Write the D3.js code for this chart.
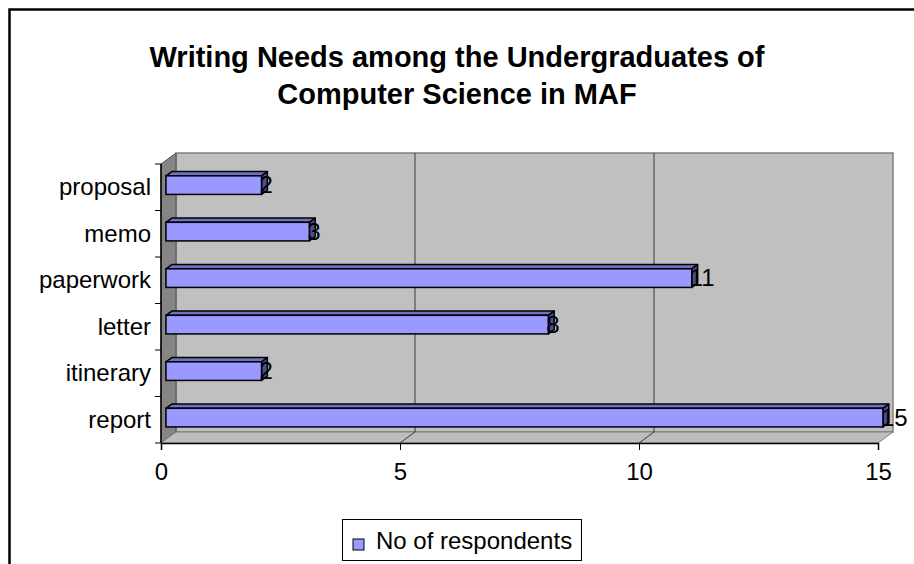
<!DOCTYPE html>
<html>
<head>
<meta charset="utf-8">
<script src="https://cdn.jsdelivr.net/npm/d3@7"></script>
<style>
  html, body { margin: 0; padding: 0; background: #fff; }
  svg { display: block; }
  text { font-family: "Liberation Sans", Arial, sans-serif; }
</style>
</head>
<body>
<svg id="chart" width="914" height="564"></svg>
<script>
// Writing needs data (top to bottom as shown)
const categories = ["proposal", "memo", "paperwork", "letter", "itinerary", "report"];
const respondents = [2, 3, 11, 8, 2, 15];
const xTicks = [0, 5, 10, 15];
const titleLines = ["Writing Needs among the Undergraduates of", "Computer Science in MAF"];
const seriesName = "No of respondents";

const svg = d3.select("#chart");

// Outer chart frame (extends past the page edges)
svg.append("rect")
  .attr("x", 9.5).attr("y", 9.5)
  .attr("width", 1000).attr("height", 1000)
  .attr("fill", "#fff").attr("stroke", "#000").attr("stroke-width", 2.5);

// Title
svg.append("g").selectAll("text")
  .data(titleLines).join("text")
  .attr("x", 457)
  .attr("y", (d, i) => 67 + i * 37)
  .attr("text-anchor", "middle")
  .attr("font-size", 29).attr("font-weight", "bold")
  .text(d => d);

// Front plane scales, plus the depth offset of the 3D box
const x = d3.scaleLinear().domain([0, 15]).range([161, 878]);
const y = d3.scaleBand().domain(categories).range([164, 443]);
const depth = { dx: 15, dy: -11 };
const yTop = y.range()[0], yBot = y.range()[1];
const x0 = x(0), x1 = x(15);

const box = svg.append("g");
// Back wall
box.append("rect")
  .attr("x", x0 + depth.dx).attr("y", yTop + depth.dy)
  .attr("width", x1 - x0).attr("height", yBot - yTop)
  .attr("fill", "#c0c0c0").attr("stroke", "#808080").attr("stroke-width", 1.5);
// Left side wall
box.append("polygon")
  .attr("points", [[x0, yTop], [x0 + depth.dx, yTop + depth.dy], [x0 + depth.dx, yBot + depth.dy], [x0, yBot]].join(" "))
  .attr("fill", "#858585").attr("stroke", "#505050").attr("stroke-width", 1);
// Floor
box.append("polygon")
  .attr("points", [[x0, yBot], [x0 + depth.dx, yBot + depth.dy], [x1 + depth.dx, yBot + depth.dy], [x1, yBot]].join(" "))
  .attr("fill", "#bdbdbd").attr("stroke", "#808080").attr("stroke-width", 1);

// Vertical gridlines on the back wall and their floor diagonals
const inner = xTicks.filter(v => v > 0 && v < 15);
box.selectAll(".grid").data(inner).join("line")
  .attr("x1", d => x(d) + depth.dx).attr("x2", d => x(d) + depth.dx)
  .attr("y1", yTop + depth.dy).attr("y2", yBot + depth.dy)
  .attr("stroke", "#3a3a3a").attr("stroke-width", 1);
box.selectAll(".gridFloor").data(inner).join("line")
  .attr("x1", d => x(d) + depth.dx).attr("y1", yBot + depth.dy)
  .attr("x2", d => x(d)).attr("y2", yBot)
  .attr("stroke", "#3a3a3a").attr("stroke-width", 1);

// Axes on the front plane
const xAxis = d3.axisBottom(x).tickValues(xTicks).tickSize(7).tickPadding(13);
const gx = svg.append("g").attr("transform", `translate(0,${yBot})`).call(xAxis);
gx.select(".domain").attr("stroke", "#000").attr("stroke-width", 1.5);
gx.selectAll(".tick line").attr("stroke", "#000");
gx.selectAll(".tick text").attr("font-size", 24).attr("fill", "#000")
  .attr("font-family", "'Liberation Sans', Arial, sans-serif");

const gy = svg.append("g").attr("transform", `translate(${x0},0)`);
gy.append("line").attr("x1", 0).attr("x2", 0).attr("y1", yTop).attr("y2", yBot)
  .attr("stroke", "#000").attr("stroke-width", 1.5);
const bounds = d3.range(categories.length + 1).map(i => yTop + i * y.step());
gy.selectAll(".ytick").data(bounds).join("line")
  .attr("x1", -6).attr("x2", 0).attr("y1", d => d).attr("y2", d => d)
  .attr("stroke", "#000");
gy.selectAll(".ylabel").data(categories).join("text")
  .attr("x", -10)
  .attr("y", d => y(d) + y.bandwidth() / 2 + 8)
  .attr("text-anchor", "end")
  .attr("font-size", 24)
  .text(d => d);

// 3D bars: front face, top face and right end face
const f1 = 0.33, f2 = 0.72;
const barH = y.bandwidth() * 0.4;
const fx = depth.dx * f1, fy = depth.dy * f1;
const bx = depth.dx * (f2 - f1), by = depth.dy * (f2 - f1);
const data = categories.map((c, i) => ({ c, v: respondents[i] }));

const bars = svg.append("g").selectAll("g").data(data).join("g")
  .attr("transform", d => `translate(${fx},${y(d.c) + (y.bandwidth() - barH) / 2 + fy + 1.5})`);
bars.append("polygon")
  .attr("points", d => [[x(0), 0], [x(0) + bx, by], [x(d.v) + bx, by], [x(d.v), 0]].join(" "))
  .attr("fill", "#7070c6").attr("stroke", "#000").attr("stroke-width", 1.5).attr("stroke-linejoin", "round");
bars.append("polygon")
  .attr("points", d => [[x(d.v), 0], [x(d.v) + bx, by], [x(d.v) + bx, barH + by], [x(d.v), barH]].join(" "))
  .attr("fill", "#4c4c92").attr("stroke", "#000").attr("stroke-width", 1.5).attr("stroke-linejoin", "round");
bars.append("rect")
  .attr("x", x(0)).attr("y", 0)
  .attr("width", d => x(d.v) - x(0)).attr("height", barH)
  .attr("fill", "#9999ff").attr("stroke", "#000").attr("stroke-width", 1.5);
bars.append("text")
  .attr("x", d => x(d.v) - 2)
  .attr("y", barH - 1)
  .attr("font-size", 24)
  .text(d => d.v);

// Legend
const lg = svg.append("g");
lg.append("rect").attr("x", 342.5).attr("y", 519.5).attr("width", 239).attr("height", 41)
  .attr("fill", "#fff").attr("stroke", "#000").attr("stroke-width", 1);
lg.append("rect").attr("x", 353).attr("y", 539).attr("width", 11).attr("height", 11)
  .attr("fill", "#9999ff").attr("stroke", "#000").attr("stroke-width", 1);
lg.append("text").attr("x", 376).attr("y", 549).attr("font-size", 24).text(seriesName);
</script>
</body>
</html>
